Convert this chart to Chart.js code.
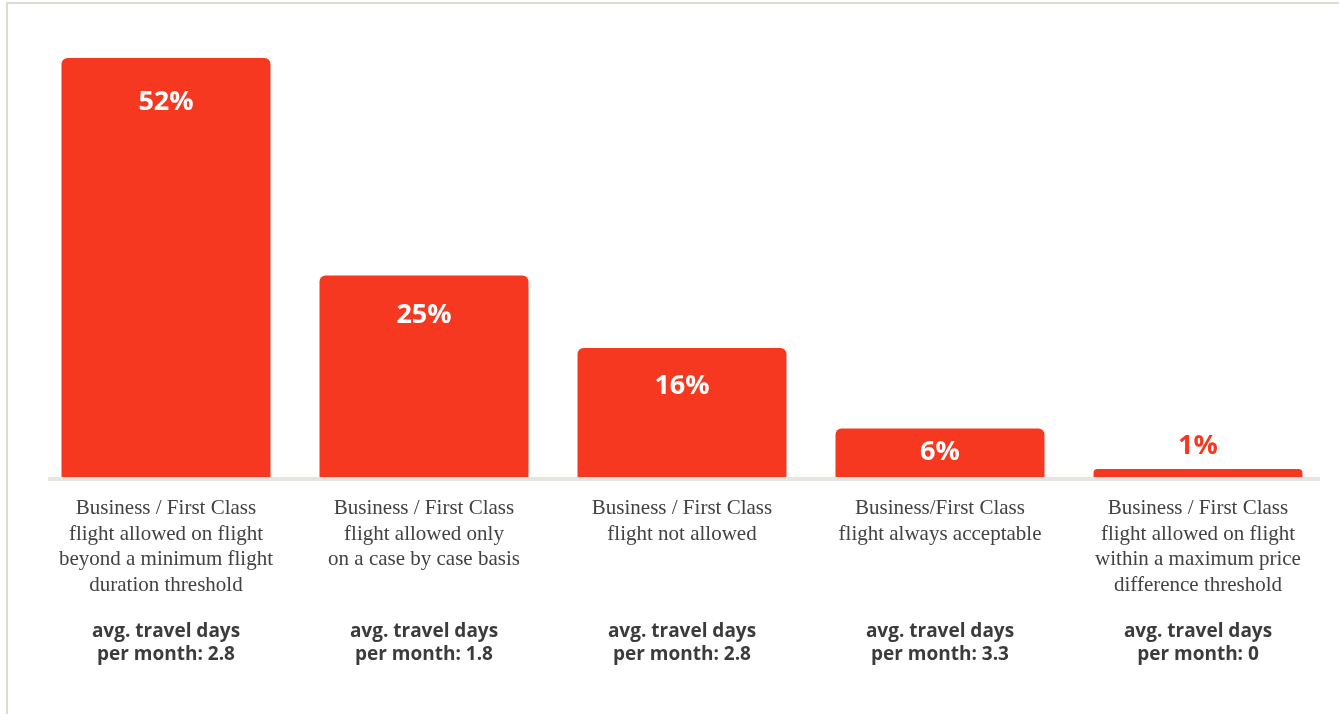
<!DOCTYPE html>
<html>
<head>
<meta charset="utf-8">
<script src="https://cdn.jsdelivr.net/npm/chart.js@4.4.1/dist/chart.umd.min.js"></script>
<style>
  html, body { margin: 0; padding: 0; background: #fff; }
  #frame { position: absolute; left: 6px; top: 2px; width: 1400px; height: 800px;
           border-top: 2px solid #dedbd2; border-left: 2px solid #dedbd2; }
  #wrap { position: absolute; left: 0; top: 0; width: 1339px; height: 714px; }
</style>
</head>
<body>
<div id="frame"></div>
<div id="wrap"><canvas id="chart"></canvas></div>
<script>
const policies = [
  ['Business / First Class', 'flight allowed on flight', 'beyond a minimum flight', 'duration threshold'],
  ['Business / First Class', 'flight allowed only', 'on a case by case basis'],
  ['Business / First Class', 'flight not allowed'],
  ['Business/First Class', 'flight always acceptable'],
  ['Business / First Class', 'flight allowed on flight', 'within a maximum price', 'difference threshold']
];
const shares = [52, 25, 16, 6, 1];
const travelDays = ['2.8', '1.8', '2.8', '3.3', '0'];

const red = '#f5381f';

// grey rule under the bars, value labels and the travel-days notes
const extras = {
  id: 'extras',
  beforeDatasetsDraw(chart) {
    const { ctx, scales } = chart;
    const y0 = scales.y.getPixelForValue(0);
    ctx.save();
    ctx.fillStyle = '#e6e5df';
    ctx.fillRect(48, y0, 1272, 4);
    ctx.restore();
  },
  afterDatasetsDraw(chart) {
    const { ctx, scales } = chart;
    const meta = chart.getDatasetMeta(0);
    ctx.save();
    ctx.textAlign = 'center';
    ctx.textBaseline = 'middle';
    ctx.font = 'bold 27px "Open Sans"';
    meta.data.forEach((bar, i) => {
      const h = bar.base - bar.y;
      let y, color = '#fff';
      if (h > 100) y = bar.y + 36 + h * 0.02;
      else if (h > 30) y = bar.y + h / 2;
      else { y = bar.y - 23; color = red; }
      ctx.fillStyle = color;
      ctx.fillText(shares[i] + '%', bar.x, y);
    });
    ctx.fillStyle = '#3b3b3b';
    ctx.font = 'bold 19px "Open Sans"';
    travelDays.forEach((d, i) => {
      const x = scales.x.getPixelForValue(i);
      ctx.fillText('avg. travel days', x, 632);
      ctx.fillText('per month: ' + d, x, 655);
    });
    ctx.restore();
  }
};

new Chart(document.getElementById('chart'), {
  type: 'bar',
  data: {
    labels: policies,
    datasets: [{
      data: shares,
      backgroundColor: red,
      borderRadius: { topLeft: 6, topRight: 6 },
      borderSkipped: 'bottom',
      categoryPercentage: 1,
      barPercentage: 0.81
    }]
  },
  options: {
    responsive: true,
    maintainAspectRatio: false,
    animation: false,
    layout: { padding: { left: 37, right: 12, top: 58, bottom: 97 } },
    plugins: { legend: { display: false }, tooltip: { enabled: false } },
    scales: {
      x: {
        grid: { display: false, drawTicks: false },
        border: { display: false },
        ticks: {
          padding: 19,
          maxRotation: 0,
          autoSkip: false,
          color: '#424242',
          font: { family: '"Liberation Serif"', size: 21, lineHeight: 1.215 }
        }
      },
      y: {
        display: false,
        min: 0,
        max: 52
      }
    }
  },
  plugins: [extras]
});
</script>
</body>
</html>
